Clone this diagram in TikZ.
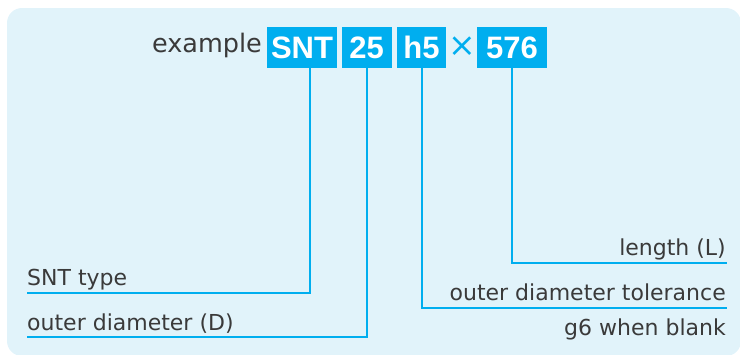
\documentclass[tikz,border=0pt]{standalone}
\usepackage{fontspec}
\setmainfont{DejaVu Sans}
\newfontfamily\boxfont{Liberation Sans}
\definecolor{bgblue}{HTML}{E1F3FA}
\definecolor{cyanline}{HTML}{00AEEF}
\definecolor{txtgray}{HTML}{3A3A3A}
\begin{document}
\begin{tikzpicture}[x=1pt,y=-1pt,
  codebox/.style={fill=cyanline, text=white, inner sep=0pt, minimum height=41pt,
    text height=21.5pt, text depth=0pt, font=\boxfont\bfseries\fontsize{31}{31}\selectfont},
  lbl/.style={text=txtgray, inner sep=0pt, font=\fontsize{22}{22}\selectfont},
  conn/.style={draw=cyanline, line width=2pt}]
\useasboundingbox (0,0) rectangle (740,354);
\begin{scope}
\clip (0,0) rectangle (740,354);
\fill[bgblue, rounded corners=15pt] (7,8) rectangle (741,356);
\end{scope}
% header
\node[text=txtgray, inner sep=0pt, anchor=base east, font=\fontsize{25.5}{25.5}\selectfont] (ex) at (262,52) {example};
\node[codebox, minimum width=70pt] (snt) at (302,47.5) {SNT};
\node[codebox, minimum width=50pt] (dia) at (366.7,47.5) {25};
\node[codebox, minimum width=49.5pt] (tol) at (421.5,47.5) {h5};
\node[text=cyanline, inner sep=0pt, font=\fontsize{33}{33}\selectfont] (times) at (462.5,46.5) {×};
\node[codebox, minimum width=70pt] (len) at (512,47.5) {576};
% labels
\node[lbl, anchor=base west] (lsnt) at (27,285) {SNT type};
\node[lbl, anchor=base west] (ldia) at (27,330) {outer diameter (D)};
\node[lbl, anchor=base east] (llen) at (726,255) {length (L)};
\node[lbl, anchor=base east] (ltol) at (726,300.5) {outer diameter tolerance};
\node[lbl, anchor=base east] (lblank) at (726,335) {g6 when blank};
% connector ends
\coordinate (esnt) at (27,292.7);
\coordinate (edia) at (27,337.3);
\coordinate (elen) at (727,263.3);
\coordinate (etol) at (727,307.7);
% connectors
\draw[conn] ([xshift=8pt]snt.south) |- (esnt);
\draw[conn] (dia.south) |- (edia);
\draw[conn] ([xshift=0.5pt]tol.south) |- (etol);
\draw[conn] (len.south) |- (elen);
\end{tikzpicture}
\end{document}
